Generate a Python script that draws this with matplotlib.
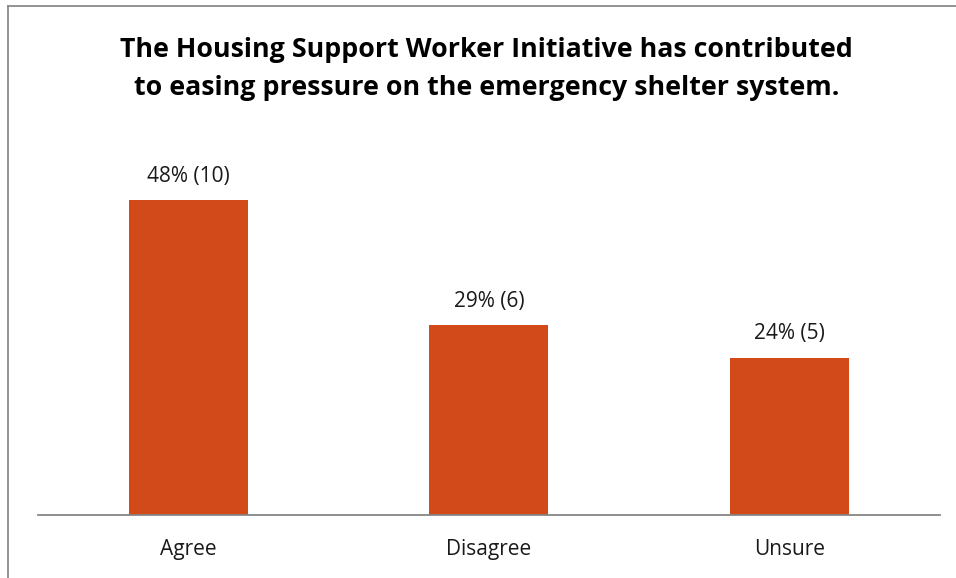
import matplotlib
matplotlib.use("Agg")
import matplotlib.pyplot as plt
from matplotlib.lines import Line2D

# Datos de la encuesta
categorias = ["Agree", "Disagree", "Unsure"]
porcentajes = [48, 29, 24]
respuestas = [10, 6, 5]
titulo = ["The Housing Support Worker Initiative has contributed",
          "to easing pressure on the emergency shelter system."]

plt.rcParams['font.family'] = ['Open Sans', 'DejaVu Sans']

fig = plt.figure(figsize=(9.56, 5.78), dpi=100)
ax = fig.add_axes([0.0397, 0.109, 0.9435, 0.6812])

x = range(len(categorias))
barras = ax.bar(x, porcentajes, width=0.396, color='#D24A19')

# Etiquetas de valor sobre cada barra
for b, p, n in zip(barras, porcentajes, respuestas):
    ax.annotate(f"{p}% ({n})", (b.get_x() + b.get_width() / 2, p),
                xytext=(0, 13), textcoords='offset points',
                ha='center', va='baseline', fontsize=15, color='#1a1a1a')

ax.set_xlim(-0.5, 2.5)
ax.set_ylim(0, 60)
ax.set_xticks(list(x))
ax.set_xticklabels(categorias, fontsize=15, color='#1a1a1a')
ax.tick_params(axis='x', length=0, pad=17)
ax.set_yticks([])
for lado in ['top', 'right', 'left']:
    ax.spines[lado].set_visible(False)
ax.spines['bottom'].set_color('#868686')
ax.spines['bottom'].set_linewidth(1.3)

# Titulo en dos lineas
for linea, y_px in zip(titulo, [57, 95]):
    fig.text(486.5 / 956, 1 - y_px / 578, linea, ha='center', va='baseline',
             fontsize=19.3, fontweight='bold', color='black')

# Borde del grafico (izquierda y arriba)
fig.add_artist(Line2D([8 / 956, 8 / 956], [0, 1 - 6 / 578],
                      transform=fig.transFigure, color='#8a8a8a', lw=1.3))
fig.add_artist(Line2D([8 / 956, 1], [1 - 6 / 578, 1 - 6 / 578],
                      transform=fig.transFigure, color='#8a8a8a', lw=1.3))

fig.savefig("out.png", dpi=100)
